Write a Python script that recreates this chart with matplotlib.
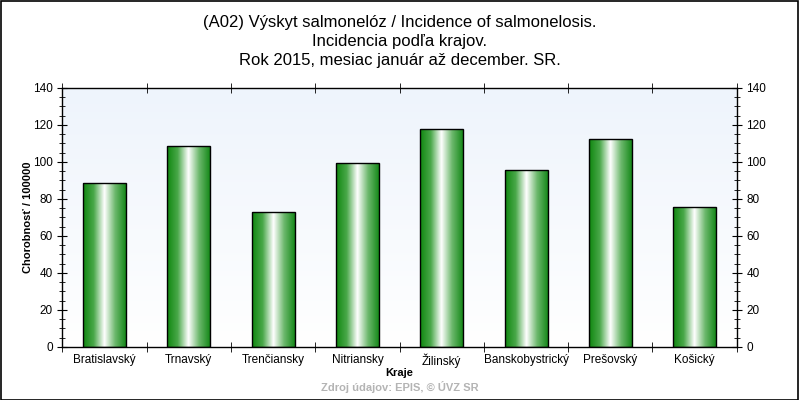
import numpy as np
import matplotlib
matplotlib.use("Agg")
import matplotlib.pyplot as plt
from matplotlib.colors import LinearSegmentedColormap
from matplotlib.patches import Rectangle
from matplotlib.ticker import MultipleLocator, FixedLocator

plt.rcParams['font.family'] = ['Liberation Sans', 'DejaVu Sans']

# data
regions = ['Bratislavský', 'Trnavský', 'Trenčiansky', 'Nitriansky',
           'Žilinský', 'Banskobystrický', 'Prešovský', 'Košický']
incidence = [88.6, 108.6, 73.0, 99.5, 117.8, 95.7, 112.4, 75.7]

title = ("(A02) Výskyt salmonelóz / Incidence of salmonelosis.\n"
         "Incidencia podľa krajov.\n"
         "Rok 2015, mesiac január až december. SR.")
y_label = "Chorobnosť / 100000"
x_label = "Kraje"
source = "Zdroj údajov: EPIS, © ÚVZ SR"

# (1): Figure instance:
figure = plt.figure(figsize=(8, 4), dpi=100)
figure.patch.set_facecolor('white')
figure.add_artist(Rectangle((0.001, 0.001), 0.997, 0.997, transform=figure.transFigure,
                            fill=False, edgecolor='black', linewidth=1.2))

# (2): Add an Axes Object:
axes_object = figure.add_axes([0.078, 0.133, 0.843, 0.647])
x_positions = np.arange(len(regions))
axes_object.set_xlim(-0.5, len(regions) - 0.5)
axes_object.set_ylim(0, 140)

# background gradient: light blue on top, white at bottom
bg = LinearSegmentedColormap.from_list('bg', ['#ffffff', '#eef4fc'])
axes_object.imshow(np.linspace(0, 1, 256).reshape(-1, 1), cmap=bg, aspect='auto',
                   extent=(-0.5, len(regions) - 0.5, 0, 140), origin='lower', zorder=0)

# cylinder-like bars
bar_cmap = LinearSegmentedColormap.from_list(
    'bar', ['#0f870f', '#4aa84a', '#ffffff', '#6cb86c', '#16891a'])
gradient = np.linspace(0, 1, 256).reshape(1, -1)
bar_width = 0.51
bars = axes_object.bar(x_positions, incidence, width=bar_width, facecolor='none',
                       edgecolor='black', linewidth=1.0, zorder=3)
for bar in bars:
    x0, w, h = bar.get_x(), bar.get_width(), bar.get_height()
    im = axes_object.imshow(gradient, cmap=bar_cmap, aspect='auto',
                            extent=(x0, x0 + w, 0, h), zorder=2)
    im.set_clip_path(bar)

axes_object.set_xticks(x_positions)
axes_object.set_xticklabels(regions, fontsize=8.5)
axes_object.xaxis.set_minor_locator(FixedLocator(np.arange(-0.5, len(regions), 1.0)))
axes_object.tick_params(axis='x', which='major', length=0, pad=5)
axes_object.tick_params(axis='x', which='minor', direction='inout', length=7,
                        top=True, bottom=True)

axes_object.yaxis.set_major_locator(MultipleLocator(20))
axes_object.yaxis.set_minor_locator(MultipleLocator(5))
axes_object.tick_params(axis='y', which='major', direction='inout', length=7,
                        labelsize=8.5, left=True, right=True, labelright=True)
axes_object.tick_params(axis='y', which='minor', direction='inout', length=4,
                        left=True, right=True)

for spine in axes_object.spines.values():
    spine.set_linewidth(1.0)

axes_object.set_ylabel(y_label, fontsize=8, fontweight='bold')
axes_object.yaxis.set_label_coords(-0.043, 0.5)
axes_object.set_xlabel(x_label, fontsize=8, fontweight='bold')
axes_object.xaxis.set_label_coords(0.5, -0.08)

figure.text(0.5, 0.962, title, ha='center', va='top', fontsize=12, linespacing=1.32)
figure.text(0.5, 0.018, source, ha='center', va='bottom', fontsize=8,
            fontweight='bold', color='#b4b4b4')

plt.savefig('out.png', dpi=100)
